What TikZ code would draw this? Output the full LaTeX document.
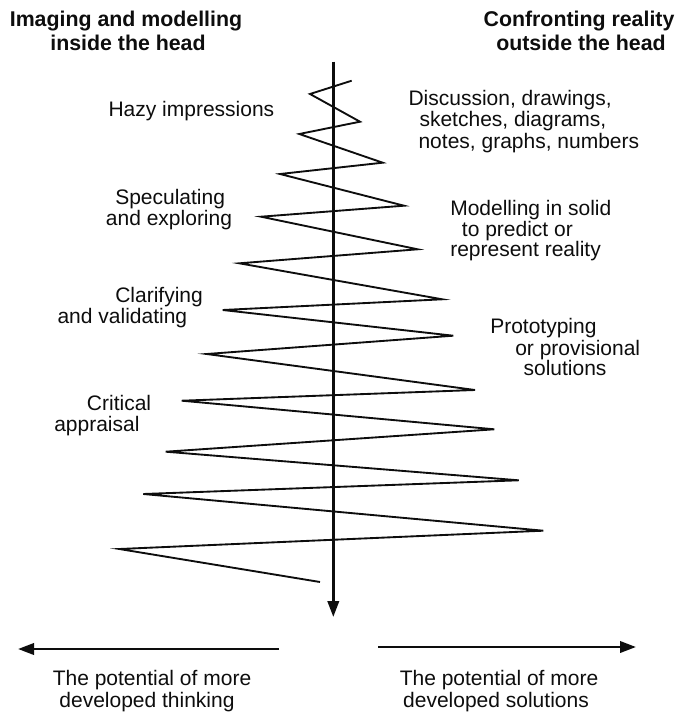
\documentclass[tikz,border=0pt]{standalone}
\usepackage{fontspec}
\setmainfont{Liberation Sans}
\usepackage{tikz}
\usetikzlibrary{arrows.meta, positioning}
\definecolor{mainBlack}{gray}{0.05}
\newcommand{\labelFont}{\fontsize{15.75}{18}\selectfont}
\newcommand{\headFont}{\fontsize{16}{18}\selectfont\bfseries}

\begin{document}
\begin{tikzpicture}[x=0.75pt, y=-0.75pt, >={Triangle[length=12pt, width=8.5pt]},
    sideLabel/.style={anchor=base west, inner sep=0pt, font=\labelFont, text=mainBlack},
    midLabel/.style={anchor=base, inner sep=0pt, font=\labelFont, text=mainBlack},
    headLabel/.style={anchor=base, inner sep=0pt, font=\headFont, text=mainBlack},
    zigLine/.style={mainBlack, line width=1.4pt},
    axisLine/.style={mainBlack, line width=2pt}]
    \useasboundingbox (0,0) rectangle (680,713);
    % headings
    \node[headLabel] (headInA) at (126,27) {Imaging and modelling};
    \node[headLabel] (headInB) at (128,51) {inside the head};
    \node[headLabel] (headOutA) at (579,27) {Confronting reality};
    \node[headLabel] (headOutB) at (581,51) {outside the head};
    % the zigzag of thinking
    \draw[zigLine] (351.7,80.7) -- (310,94) -- (360,121.7) -- (299.3,134)
        -- (382.7,162.7) -- (280,174) -- (404,205.7) -- (261,216.7)
        -- (417.7,249.3) -- (239.3,263.3) -- (442.3,299.3) -- (222.7,310)
        -- (453.3,335.7) -- (206.7,354) -- (475,390) -- (181.7,400.7)
        -- (494.3,429.3) -- (165.7,451.7) -- (518.7,480.3) -- (143.3,494)
        -- (543.3,530.7) -- (119.3,549) -- (320,582);
    \coordinate (axisTop) at (333.3,61.7);
    \coordinate (axisEnd) at (333.3,617);
    \draw[axisLine, ->] (axisTop) -- (axisEnd);
    % inside the head
    \node[sideLabel] (hazy) at (108.3,116.7) {Hazy impressions};
    \node[sideLabel] (specA) at (115,204.3) {Speculating};
    \node[sideLabel] (specB) at (105.7,225.7) {and exploring};
    \node[sideLabel] (clarA) at (115,302.3) {Clarifying};
    \node[sideLabel] (clarB) at (57.3,323.3) {and validating};
    \node[sideLabel] (critA) at (86.7,410) {Critical};
    \node[sideLabel] (critB) at (54,431.7) {appraisal};
    % outside the head
    \node[sideLabel] (discA) at (408.3,106) {Discussion, drawings,};
    \node[sideLabel] (discB) at (419.3,126.7) {sketches, diagrams,};
    \node[sideLabel] (discC) at (418.3,148.3) {notes, graphs, numbers};
    \node[sideLabel] (modA) at (450,215) {Modelling in solid};
    \node[sideLabel] (modB) at (461.7,236.7) {to predict or};
    \node[sideLabel] (modC) at (450,256.7) {represent reality};
    \node[sideLabel] (protoA) at (490,333.3) {Prototyping};
    \node[sideLabel] (protoB) at (515,355) {or provisional};
    \node[sideLabel] (protoC) at (523.3,375) {solutions};
    % potentials
    \coordinate (thinkStart) at (279,649);
    \coordinate (thinkEnd) at (18,649);
    \coordinate (solveStart) at (378,647);
    \coordinate (solveEnd) at (636,647);
    \draw[axisLine, ->] (thinkStart) -- (thinkEnd);
    \draw[axisLine, ->] (solveStart) -- (solveEnd);
    \node[midLabel] (thinkA) at (152,685) {The potential of more};
    \node[midLabel] (thinkB) at (147,707) {developed thinking};
    \node[midLabel] (solveA) at (499,685) {The potential of more};
    \node[midLabel] (solveB) at (496,707) {developed solutions};
\end{tikzpicture}
\end{document}
